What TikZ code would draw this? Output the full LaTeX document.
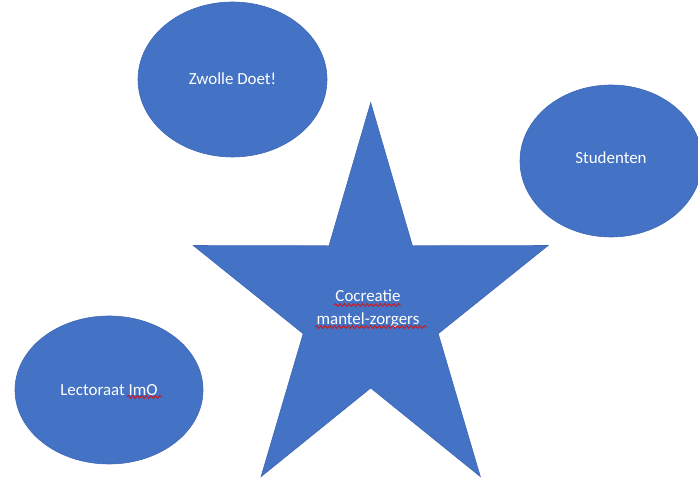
\documentclass[tikz,border=0pt]{standalone}
\usepackage{fontspec}
\setmainfont{Carlito}
\usepackage{xcolor}
\usetikzlibrary{shapes.geometric,decorations.pathmorphing}

\definecolor{officeblue}{HTML}{4472C4}
\definecolor{officeedge}{HTML}{3F68B5}
\definecolor{spellred}{HTML}{D01818}

\begin{document}
\begin{tikzpicture}[
    x=1bp, y=1bp,
    blob/.style={ellipse, fill=officeblue, draw=officeedge, line width=0.6bp, inner sep=0pt, text=white, font=\fontsize{17}{21}\selectfont},
    starfill/.style={fill=officeblue, draw=officeedge, line width=0.6bp},
    label/.style={text=white, align=center, font=\fontsize{17}{23}\selectfont},
    squiggle/.style={draw=spellred, line width=0.9bp, decorate, decoration={snake, segment length=4.5bp, amplitude=1.4bp}}
]
    \useasboundingbox (0,0) rectangle (698,478);

    % ellipses
    \node[blob, minimum width=189bp, minimum height=155bp] (zwolle) at (232.5,398.5) {\raisebox{2bp}{Zwolle Doet!}};
    \node[blob, minimum width=182bp, minimum height=152bp] (studenten) at (611,317) {\raisebox{6bp}{Studenten}};
    \node[blob, minimum width=188bp, minimum height=148bp] (lectoraat) at (109,88) {Lectoraat ImO};

    % star
    \fill[starfill, shift={(370.7,168.6)}] (90:186.5 and 206.7)
        \foreach \a in {162,234,306,378} { -- (\a-36:71 and 78.6) -- (\a:186.5 and 206.7) }
        -- (54:71 and 78.6) -- cycle;
    \node[label] (cocreatie) at (368,169.5) {Cocreatie\\mantel-zorgers};

    % spelling marks
    \draw[squiggle] (334,173) -- (401,173);
    \draw[squiggle] (315,151) -- (427,151);
    \draw[squiggle] (127,81) -- (162,81);
\end{tikzpicture}
\end{document}
